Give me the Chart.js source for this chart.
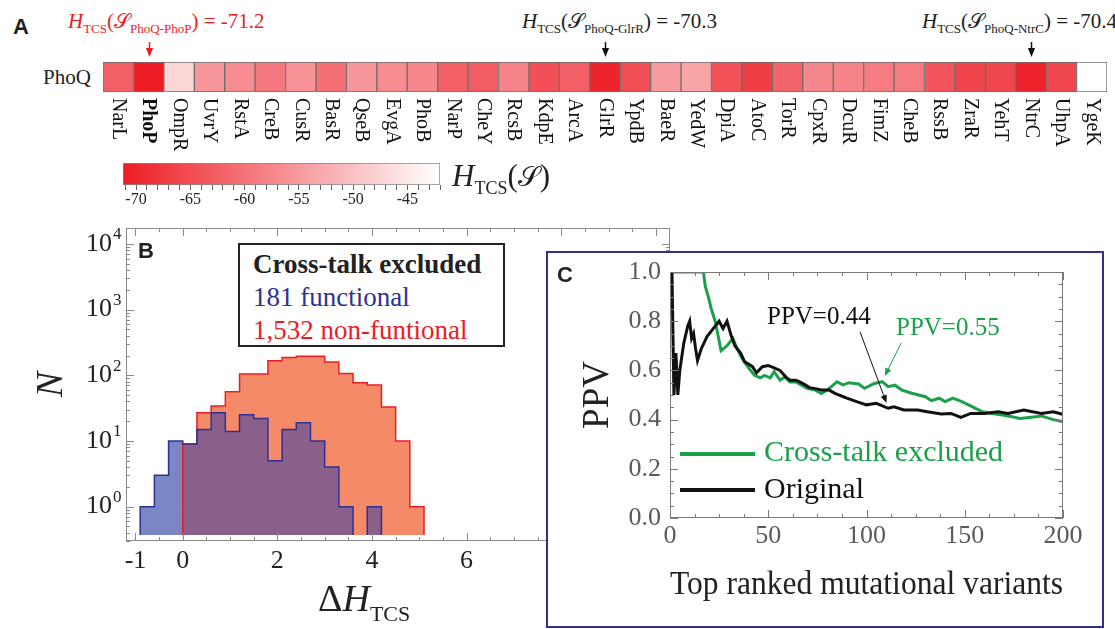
<!DOCTYPE html>
<html>
<head>
<meta charset="utf-8">
<script src="https://cdn.jsdelivr.net/npm/chart.js@4.4.0/dist/chart.umd.min.js"></script>
<style>
  body { margin: 0; width: 1115px; height: 629px; position: relative; overflow: hidden; background: #fff;
         font-family: "Liberation Serif", "Times New Roman", serif; color: #222; }
  .abs { position: absolute; white-space: nowrap; }
  canvas { position: absolute; }
  .panel { font: bold 22px "Liberation Sans", Arial, sans-serif; color: #231f20; }
  .note { font-size: 21px; line-height: 24px; }
  .note sub { font-size: 13px; vertical-align: -5px; line-height: 0; }
  .scr { font-family: "DejaVu Serif", "DejaVu Sans", serif; }
  #boxC { left: 546px; top: 251px; width: 558px; height: 377px; box-sizing: border-box; border: 2px solid #2e3192; background: #fff; }
  #legB { left: 238px; top: 243px; width: 267px; height: 104px; box-sizing: border-box; border: 2px solid #222;
          padding: 3px 0 0 13px; font-size: 27px; line-height: 33px; background: #fff; }
</style>
</head>
<body>

<div class="abs panel" style="left:13px;top:14px;">A</div>
<div class="abs note" style="left:68px;top:9px;color:#ed1c24;"><i>H</i><sub>TCS</sub>(<span class="scr">𝒮</span><sub>PhoQ-PhoP</sub>) = -71.2</div>
<div class="abs note" style="left:522px;top:9px;"><i>H</i><sub>TCS</sub>(<span class="scr">𝒮</span><sub>PhoQ-GlrR</sub>) = -70.3</div>
<div class="abs note" style="left:922px;top:9px;"><i>H</i><sub>TCS</sub>(<span class="scr">𝒮</span><sub>PhoQ-NtrC</sub>) = -70.4</div>
<div class="abs" style="left:43px;top:65px;font-size:21px;">PhoQ</div>
<canvas id="heat" width="1115" height="130" style="left:0;top:35px;"></canvas>

<canvas id="cbar" width="370" height="70" style="left:100px;top:150px;"></canvas>
<div class="abs" style="left:452px;top:160px;font-size:31px;line-height:32px;"><i>H</i><sub style="font-size:18px;vertical-align:-8px;line-height:0;">TCS</sub>(<span class="scr" style="font-size:28px;">𝒮</span>)</div>

<canvas id="hist" width="680" height="414" style="left:0;top:215px;"></canvas>
<div class="abs panel" style="left:138px;top:238px;">B</div>
<div class="abs" id="legB">
  <div style="font-weight:bold;">Cross-talk excluded</div>
  <div style="color:#2e3192;">181 functional</div>
  <div style="color:#ed1c24;">1,532 non-funtional</div>
</div>
<div class="abs" style="left:318px;top:578px;font-size:38px;line-height:40px;">Δ<i>H</i><sub style="font-size:22px;vertical-align:-10px;line-height:0;">TCS</sub></div>

<div class="abs" id="boxC"></div>
<canvas id="ppv" width="540" height="366" style="left:560px;top:258px;"></canvas>
<div class="abs panel" style="left:557px;top:262px;">C</div>
<div class="abs" style="left:767px;top:302px;font-size:25px;color:#111;">PPV=0.44</div>
<div class="abs" style="left:896px;top:313px;font-size:25px;color:#1ba04a;">PPV=0.55</div>
<div class="abs" style="left:680px;top:452px;width:75px;height:4px;background:#1ba04a;"></div>
<div class="abs" style="left:764px;top:434px;font-size:30px;color:#1ba04a;">Cross-talk excluded</div>
<div class="abs" style="left:680px;top:488px;width:75px;height:4px;background:#111;"></div>
<div class="abs" style="left:764px;top:471px;font-size:30px;color:#111;">Original</div>

<script>
// ---- panel A: heat map of H_TCS for PhoQ against each response regulator
const heatCategories = ['NarL', 'PhoP', 'OmpR', 'UvrY', 'RstA', 'CreB', 'CusR', 'BasR', 'QseB', 'EvgA', 'PhoB',
  'NarP', 'CheY', 'RcsB', 'KdpE', 'ArcA', 'GlrR', 'YpdB', 'BaeR', 'YedW', 'DpiA', 'AtoC', 'TorR', 'CpxR',
  'DcuR', 'FimZ', 'CheB', 'RssB', 'ZraR', 'YehT', 'NtrC', 'UhpA', 'YgeK'];
const heatValues = [-62.4, -71.2, -47.3, -55.4, -56.8, -59.4, -56.2, -60.4, -55.4, -56.8, -57.3,
  -62.6, -63.0, -58.0, -64.5, -62.6, -70.3, -64.8, -54.9, -53.6, -64.4, -66.8, -61.9, -57.4,
  -58.0, -58.7, -58.7, -63.9, -66.0, -65.8, -70.4, -65.8, -42.0];
const heatMarked = ['PhoP', 'GlrR', 'NtrC'];
const heatMarkColors = ['#ed1c24', '#111', '#111'];
const colorbarTicks = [-70, -65, -60, -55, -50, -45];

// ---- panel B: histograms of delta H_TCS
const binEdges = [-0.9, -0.6, -0.3, 0, 0.3, 0.6, 0.9, 1.2, 1.5, 1.8, 2.1, 2.4, 2.7, 3.0, 3.3, 3.6, 3.9, 4.2, 4.5, 4.8, 5.1];
const functionalCounts = [1, 3, 10, 9, 15, 27, 14, 25, 22, 5, 15, 19, 10, 4, 1, 0, 1, 0, 0, 0];
const nonFunctionalCounts = [0, 0, 0, 9, 27, 34, 56, 105, 105, 166, 187, 195, 195, 160, 107, 77, 71, 33, 10, 1];
const histTickLabels = [-1, 0, 2, 4, 6, 8, 10];
const histBase = 0.37;

// ---- panel C: PPV of top ranked variants
const origX = [1, 2, 3, 4, 5, 7, 9, 10, 11, 12, 13, 14, 16, 19, 22, 25, 27, 29, 31, 33, 36, 38, 42, 44, 47, 50,
  53, 56, 59, 61, 64, 66, 69, 71, 74, 77, 81, 84, 86, 90, 95, 100, 105, 111, 114, 119, 126, 131, 138, 143,
  148, 153, 160, 167, 172, 180, 189, 195, 201];
const origY = [1.0, 0.5, 0.67, 0.5, 0.6, 0.71, 0.78, 0.8, 0.73, 0.75, 0.69, 0.64, 0.69, 0.74, 0.77, 0.8, 0.77, 0.8,
  0.745, 0.70, 0.67, 0.635, 0.615, 0.59, 0.615, 0.62, 0.61, 0.60, 0.573, 0.56, 0.56, 0.553, 0.54, 0.53, 0.526,
  0.52, 0.52, 0.507, 0.50, 0.487, 0.473, 0.46, 0.466, 0.446, 0.452, 0.439, 0.439, 0.432, 0.423, 0.425,
  0.409, 0.425, 0.425, 0.432, 0.425, 0.439, 0.425, 0.432, 0.419];
const exclX = [1, 17, 18, 19.5, 21, 23, 24.5, 26, 29, 32, 34, 36.5, 40, 43, 46, 48, 51, 53, 56, 58.5, 61, 64, 67,
  70, 74, 77, 80, 83, 85, 88, 91, 96, 99, 104, 108, 111, 114.5, 118, 123, 130, 133, 137, 140, 144, 148.5,
  154, 159, 164, 169, 174, 178, 184, 189, 195, 201];
const exclY = [1.0, 1.0, 0.94, 0.9, 0.85, 0.8, 0.74, 0.68, 0.70, 0.73, 0.69, 0.65, 0.61, 0.58, 0.57, 0.58, 0.57,
  0.595, 0.56, 0.573, 0.553, 0.553, 0.54, 0.526, 0.52, 0.506, 0.52, 0.54, 0.554, 0.541, 0.55, 0.545, 0.527,
  0.547, 0.554, 0.534, 0.54, 0.52, 0.507, 0.493, 0.477, 0.487, 0.473, 0.487, 0.473, 0.452, 0.432, 0.425,
  0.419, 0.412, 0.405, 0.41, 0.415, 0.40, 0.39];
const ppvXTicks = [0, 50, 100, 150, 200];
const ppvYTicks = [0, 0.2, 0.4, 0.6, 0.8, 1.0];
const ppvArrows = [
  { from: [96.7, 0.757], to: [110.2, 0.467], color: '#111' },
  { from: [117.6, 0.711], to: [109.3, 0.577], color: '#1ba04a' }
];

const SERIF = '"Liberation Serif", "Times New Roman", serif';
Chart.defaults.font.family = SERIF;
const RED = [237, 28, 36];
const cbMin = Math.min(...heatValues), cbMax = Math.max(...heatValues);

function heatColor(v) {
  const t = (v - cbMin) / (cbMax - cbMin);
  return 'rgb(' + RED.map(k => Math.round(k + (255 - k) * t)).join(',') + ')';
}

function arrow(ctx, x0, y0, x1, y1, color, head, lw) {
  const ang = Math.atan2(y1 - y0, x1 - x0);
  ctx.save();
  ctx.strokeStyle = color; ctx.fillStyle = color; ctx.lineWidth = lw;
  ctx.beginPath();
  ctx.moveTo(x0, y0);
  ctx.lineTo(x1 - Math.cos(ang) * head * 0.8, y1 - Math.sin(ang) * head * 0.8);
  ctx.stroke();
  ctx.beginPath();
  ctx.moveTo(x1, y1);
  ctx.lineTo(x1 - head * Math.cos(ang) + head * 0.4 * Math.sin(ang), y1 - head * Math.sin(ang) - head * 0.4 * Math.cos(ang));
  ctx.lineTo(x1 - head * Math.cos(ang) - head * 0.4 * Math.sin(ang), y1 - head * Math.sin(ang) + head * 0.4 * Math.cos(ang));
  ctx.closePath();
  ctx.fill();
  ctx.restore();
}

// frame with inward ticks on all four sides (Mathematica style)
function frameTicks(xTicks, yTicks, color) {
  return {
    id: 'frameTicks',
    afterDatasetsDraw(chart) {
      const { ctx, chartArea: a } = chart;
      const xs = chart.scales.x, ys = chart.scales.y;
      ctx.save();
      ctx.strokeStyle = color;
      ctx.lineWidth = 1;
      ctx.strokeRect(a.left + 0.5, a.top + 0.5, a.right - a.left - 1, a.bottom - a.top - 1);
      ctx.beginPath();
      xTicks.forEach(([v, len]) => {
        const p = Math.round(xs.getPixelForValue(v)) + 0.5;
        ctx.moveTo(p, a.bottom); ctx.lineTo(p, a.bottom - len);
        ctx.moveTo(p, a.top); ctx.lineTo(p, a.top + len);
      });
      yTicks.forEach(([v, len]) => {
        const p = Math.round(ys.getPixelForValue(v)) + 0.5;
        ctx.moveTo(a.left, p); ctx.lineTo(a.left + len, p);
        ctx.moveTo(a.right, p); ctx.lineTo(a.right - len, p);
      });
      ctx.stroke();
      ctx.restore();
    }
  };
}

// tick labels drawn by hand so the serif face is used
function tickLabels(spec) {
  return {
    id: 'tickLabels',
    afterDraw(chart) {
      const { ctx, chartArea: a } = chart;
      ctx.save();
      if (spec.x) {
        const xs = chart.scales.x;
        ctx.font = spec.x.size + 'px ' + SERIF;
        ctx.fillStyle = spec.x.color;
        ctx.textAlign = 'center';
        ctx.textBaseline = 'top';
        spec.x.values.forEach(v => ctx.fillText(spec.x.fmt(v), xs.getPixelForValue(v), a.bottom + spec.x.gap));
      }
      if (spec.y) {
        const ys = chart.scales.y;
        ctx.font = spec.y.size + 'px ' + SERIF;
        ctx.fillStyle = spec.y.color;
        ctx.textAlign = 'right';
        ctx.textBaseline = 'middle';
        spec.y.values.forEach(v => ctx.fillText(spec.y.fmt(v), a.left - spec.y.gap, ys.getPixelForValue(v)));
      }
      ctx.restore();
    }
  };
}

const heatDecor = {
  id: 'heatDecor',
  afterDraw(chart) {
    const { ctx, chartArea: a } = chart;
    const xs = chart.scales.x;
    ctx.save();
    ctx.fillStyle = '#111';
    ctx.textAlign = 'left';
    ctx.textBaseline = 'middle';
    heatCategories.forEach((name, i) => {
      ctx.save();
      ctx.translate(xs.getPixelForValue(i), a.bottom + 6);
      ctx.rotate(Math.PI / 2);
      ctx.font = (name === 'PhoP' ? 'bold ' : '') + '20px ' + SERIF;
      ctx.fillText(name, 0, 0);
      ctx.restore();
    });
    heatMarked.forEach((name, k) => {
      const x = Math.round(xs.getPixelForValue(heatCategories.indexOf(name))) + 0.5;
      arrow(ctx, x, a.top - 20, x, a.top - 5, heatMarkColors[k], 9, 1.5);
    });
    ctx.restore();
  }
};

new Chart(document.getElementById('heat'), {
  type: 'bar',
  data: {
    labels: heatCategories,
    datasets: [{
      data: heatCategories.map(() => 1),
      backgroundColor: heatValues.map(heatColor),
      borderColor: '#6e6e6e',
      borderWidth: 1,
      borderSkipped: false,
      barPercentage: 1,
      categoryPercentage: 1
    }]
  },
  options: {
    responsive: false,
    animation: false,
    events: [],
    layout: { padding: { left: 103, right: 8, top: 27, bottom: 73 } },
    plugins: { legend: { display: false }, tooltip: { enabled: false } },
    scales: {
      x: { display: false },
      y: { display: false, min: 0, max: 1 }
    }
  },
  plugins: [heatDecor]
});

// colour bar
new Chart(document.getElementById('cbar'), {
  type: 'bar',
  data: {
    labels: [''],
    datasets: [{
      data: [[cbMin, cbMax]],
      backgroundColor(c) {
        const area = c.chart.chartArea;
        if (!area) return heatColor(cbMin);
        const xs = c.chart.scales.x;
        const g = c.chart.ctx.createLinearGradient(xs.getPixelForValue(cbMin), 0, xs.getPixelForValue(cbMax), 0);
        g.addColorStop(0, heatColor(cbMin));
        g.addColorStop(1, heatColor(cbMax));
        return g;
      },
      borderColor: '#888',
      borderWidth: 1,
      borderSkipped: false,
      barPercentage: 1,
      categoryPercentage: 1
    }]
  },
  options: {
    indexAxis: 'y',
    responsive: false,
    animation: false,
    events: [],
    layout: { padding: { left: 23, right: 30, top: 13, bottom: 0 } },
    plugins: { legend: { display: false }, tooltip: { enabled: false } },
    scales: {
      y: { display: false },
      x: {
        type: 'linear', min: cbMin, max: cbMax,
        afterBuildTicks(s) {
          const t = [];
          for (let v = Math.ceil(cbMin); v <= Math.floor(cbMax); v++) t.push({ value: v });
          s.ticks = t;
        },
        afterFit(s) { s.height = 35; },
        border: { display: false },
        grid: { drawOnChartArea: false, drawTicks: true, tickLength: 5, color: '#666' },
        ticks: { display: false }
      }
    }
  },
  plugins: [tickLabels({ x: { values: colorbarTicks, fmt: String, size: 16, color: '#222', gap: 7 } })]
});

// ---- panel B
function stepOutline(edges, counts, base) {
  const first = counts.findIndex(c => c > 0);
  const last = counts.length - 1 - [...counts].reverse().findIndex(c => c > 0);
  const pts = [{ x: edges[first], y: base }];
  for (let i = first; i <= last; i++) {
    pts.push({ x: edges[i], y: counts[i] > 0 ? counts[i] : base });
    if (counts[i] === 0) pts.push({ x: edges[i + 1], y: base });
  }
  pts.push({ x: edges[last + 1], y: base });
  return pts;
}

function histSet(counts, line, fillColor) {
  return {
    data: stepOutline(binEdges, counts, histBase),
    stepped: true,
    borderColor: line,
    borderWidth: line ? 1.5 : 0,
    backgroundColor: fillColor || 'rgba(0,0,0,0)',
    fill: fillColor ? { value: histBase } : false,
    pointRadius: 0,
    segment: {
      borderColor: c => (!line || (c.p0.parsed.y <= histBase && c.p1.parsed.y <= histBase)) ? 'rgba(0,0,0,0)' : line
    }
  };
}

const overlapCounts = functionalCounts.map((c, i) => Math.min(c, nonFunctionalCounts[i]));

const histXTicks = [];
for (let v = -1; v <= 10.3; v += 0.5) histXTicks.push([v, histTickLabels.includes(v) ? 8 : 4]);
const histYTicks = [];
for (let k = -1; k <= 4; k++) {
  for (let m = 1; m <= 9; m++) {
    const v = m * Math.pow(10, k);
    if (v >= 0.3 && v <= 17500) histYTicks.push([v, m === 1 ? 8 : 4]);
  }
}

const logLabels = {
  id: 'logLabels',
  afterDraw(chart) {
    const { ctx } = chart;
    const ys = chart.scales.y;
    ctx.save();
    ctx.fillStyle = '#222';
    ctx.textBaseline = 'middle';
    for (let k = 0; k <= 4; k++) {
      const y = ys.getPixelForValue(Math.pow(10, k));
      ctx.font = '26px ' + SERIF;
      ctx.textAlign = 'right';
      ctx.fillText('10', 112, y);
      ctx.font = '17px ' + SERIF;
      ctx.textAlign = 'left';
      ctx.fillText(String(k), 113, y - 9);
    }
    ctx.restore();
  }
};

// first dataset is drawn on top: outlines, then the overlap, then the two fills
new Chart(document.getElementById('hist'), {
  type: 'line',
  data: {
    datasets: [
      histSet(functionalCounts, '#2e3192', null),
      histSet(nonFunctionalCounts, '#ed1c24', null),
      histSet(overlapCounts, null, '#8a5f8a'),
      histSet(functionalCounts, null, '#7b86c4'),
      histSet(nonFunctionalCounts, null, '#f48a67')
    ]
  },
  options: {
    responsive: false,
    animation: false,
    events: [],
    layout: { padding: { left: 0, right: 10, top: 13, bottom: 0 } },
    plugins: { legend: { display: false }, tooltip: { enabled: false } },
    scales: {
      x: {
        type: 'linear', min: -1.2, max: 10.3,
        afterFit(s) { s.height = 88; },
        border: { display: false },
        grid: { display: false, drawTicks: false },
        ticks: { display: false }
      },
      y: {
        type: 'logarithmic', min: 0.3, max: 17500,
        afterFit(s) { s.width = 126; },
        border: { display: false },
        grid: { display: false, drawTicks: false },
        ticks: { display: false },
        title: { display: true, text: 'N', color: '#222', padding: { top: 29, bottom: 0 },
                 font: { family: SERIF, size: 38, style: 'italic' } }
      }
    }
  },
  plugins: [frameTicks(histXTicks, histYTicks, '#8a8a8a'), logLabels,
            tickLabels({ x: { values: histTickLabels, fmt: String, size: 26, color: '#222', gap: 7 } })]
});

// ---- panel C
const ppvXTickMarks = [];
for (let v = 0; v <= 200; v += 12.5) ppvXTickMarks.push([v, ppvXTicks.includes(v) ? 8 : 4]);
const ppvYTickMarks = [];
for (let i = 0; i <= 20; i++) ppvYTickMarks.push([i * 0.05, i % 4 === 0 ? 8 : 4]);

const ppvNotes = {
  id: 'ppvNotes',
  afterDraw(chart) {
    const xs = chart.scales.x, ys = chart.scales.y;
    ppvArrows.forEach(a => arrow(chart.ctx,
      xs.getPixelForValue(a.from[0]), ys.getPixelForValue(a.from[1]),
      xs.getPixelForValue(a.to[0]), ys.getPixelForValue(a.to[1]), a.color, 8, 1));
  }
};

new Chart(document.getElementById('ppv'), {
  type: 'line',
  data: {
    datasets: [
      { label: 'Original', data: origX.map((x, i) => ({ x, y: origY[i] })),
        borderColor: '#111', borderWidth: 3, pointRadius: 0, fill: false },
      { label: 'Cross-talk excluded', data: exclX.map((x, i) => ({ x, y: exclY[i] })),
        borderColor: '#1ba04a', borderWidth: 3, pointRadius: 0, fill: false }
    ]
  },
  options: {
    responsive: false,
    animation: false,
    events: [],
    layout: { padding: { left: 0, right: 37, top: 14, bottom: 0 } },
    plugins: { legend: { display: false }, tooltip: { enabled: false } },
    scales: {
      x: {
        type: 'linear', min: 0, max: 200,
        afterFit(s) { s.height = 106; },
        border: { display: false },
        grid: { display: false, drawTicks: false },
        ticks: { display: false },
        title: { display: true, text: 'Top ranked mutational variants', color: '#222',
                 padding: { top: 0, bottom: 19 }, font: { family: SERIF, size: 34 } }
      },
      y: {
        type: 'linear', min: 0, max: 1,
        afterFit(s) { s.width = 110; },
        border: { display: false },
        grid: { display: false, drawTicks: false },
        ticks: { display: false },
        title: { display: true, text: 'PPV', color: '#222', padding: { top: 16, bottom: 0 },
                 font: { family: SERIF, size: 37 } }
      }
    }
  },
  plugins: [frameTicks(ppvXTickMarks, ppvYTickMarks, '#7a7a7a'), ppvNotes,
            tickLabels({
              x: { values: ppvXTicks, fmt: String, size: 26, color: '#5a5a5a', gap: 5 },
              y: { values: ppvYTicks, fmt: v => v.toFixed(1), size: 26, color: '#5a5a5a', gap: 9 }
            })]
});
</script>
</body>
</html>
